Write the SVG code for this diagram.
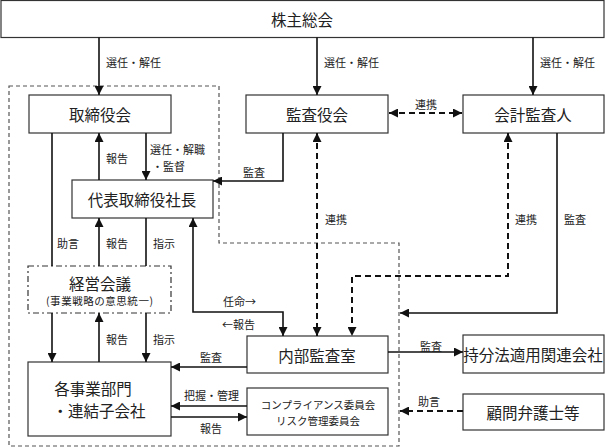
<svg xmlns="http://www.w3.org/2000/svg" width="605" height="448" viewBox="0 0 605 448">
<defs>
<marker id="ah" viewBox="0 0 10 10" refX="10" refY="5" markerWidth="9" markerHeight="9" markerUnits="userSpaceOnUse" orient="auto-start-reverse"><path d="M0,0 L10,5 L0,10 Z" fill="#111"/></marker>
</defs>
<style>
.box{fill:#fff;stroke:#333;stroke-width:1.2}
.t{font-family:"Noto Sans CJK JP","Noto Sans CJK SC",sans-serif;fill:#222;dominant-baseline:central}
.big{font-size:15.5px;text-anchor:middle}
.sm{font-size:11px}
.ln{fill:none;stroke:#111;stroke-width:1.6}
.ar{marker-end:url(#ah)}
.ar2{marker-start:url(#ah);marker-end:url(#ah)}
.dl{fill:none;stroke:#111;stroke-width:2;stroke-dasharray:6,4}
.grp{fill:none;stroke:#555;stroke-width:1.2;stroke-dasharray:4,3}
</style>
<path class="grp" d="M9,86 H219 V243 H399 V446 H9 Z"/>
<g id="kabunushi"><rect class="box" x="1" y="0.5" width="603" height="37"/><text class="t big" x="302" y="19">株主総会</text></g>
<g id="torishimariyakukai"><rect class="box" x="29" y="95" width="142" height="38"/><text class="t big" x="100" y="114">取締役会</text></g>
<g id="kansayakukai"><rect class="box" x="246" y="95" width="142" height="38"/><text class="t big" x="317" y="114">監査役会</text></g>
<g id="kaikeikansanin"><rect class="box" x="463" y="95" width="141" height="38"/><text class="t big" x="533" y="114">会計監査人</text></g>
<g id="shacho"><rect class="box" x="72" y="180" width="141" height="38"/><text class="t big" x="142" y="199" font-size="16">代表取締役社長</text></g>
<g id="keieikaigi"><rect x="28" y="266" width="143" height="47" fill="#fff" stroke="#333" stroke-width="1.2" stroke-dasharray="6,3,2,3"/><text class="t big" x="100" y="283">経営会議</text><text class="t" x="46" y="300" font-size="10.5" textLength="107" lengthAdjust="spacing">(事業戦略の意思統一)</text></g>
<g id="jigyobumon"><rect class="box" x="28" y="362" width="143" height="74"/><text class="t big" x="93" y="388">各事業部門</text><text class="t big" x="99" y="410">・連結子会社</text></g>
<g id="naibukansa"><rect class="box" x="247" y="336" width="141" height="37"/><text class="t big" x="317" y="355">内部監査室</text></g>
<g id="compliance"><rect class="box" x="247" y="388" width="141" height="47"/><text class="t" x="318" y="404" font-size="10.5" text-anchor="middle">コンプライアンス委員会</text><text class="t" x="318" y="420" font-size="10.5" text-anchor="middle">リスク管理委員会</text></g>
<g id="mochibunho"><rect class="box" x="463" y="335" width="141" height="38"/><text class="t big" x="533" y="354" font-size="14.5">持分法適用関連会社</text></g>
<g id="komon"><rect class="box" x="463" y="394" width="141" height="36"/><text class="t big" x="533" y="412">顧問弁護士等</text></g>
<g id="connectors">
<path class="ln ar" d="M99,37.5 V95"/>
<path class="ln ar" d="M317,37.5 V95"/>
<path class="ln ar" d="M533,37.5 V95"/>
<path class="ln" d="M52,133 V266"/>
<path class="ln ar" d="M99,180 V133"/>
<path class="ln ar" d="M146,133 V180"/>
<path class="ln ar" d="M283,133 V181 H213"/>
<path class="dl ar2" d="M389,113 H462"/>
<path class="ln ar" d="M99,266 V218"/>
<path class="ln" d="M146,218 V266"/>
<path class="ln ar2" d="M193,218 V312 H283 V336"/>
<path class="dl ar2" d="M317,133 V336"/>
<path class="dl ar2" d="M508,133 V276 H352 V336"/>
<path class="ln ar" d="M557,133 V313 H400"/>
<path class="ln ar" d="M52,313 V362"/>
<path class="ln ar" d="M99,362 V313"/>
<path class="ln ar" d="M146,313 V362"/>
<path class="ln ar" d="M247,367 H171"/>
<path class="ln ar" d="M247,406 H171"/>
<path class="ln ar" d="M171,417 H247"/>
<path class="ln ar" d="M388,352 H463"/>
<path class="dl ar" d="M463,411 H400"/>
</g>
<g id="labels" class="t sm">
<text x="106" y="62">選任・解任</text>
<text x="324" y="62">選任・解任</text>
<text x="540" y="62">選任・解任</text>
<text x="106" y="158">報告</text>
<text x="150" y="149">選任・解職</text>
<text x="152" y="166">・監督</text>
<text x="243" y="172">監査</text>
<text x="415" y="104">連携</text>
<text x="57" y="243">助言</text>
<text x="106" y="243">報告</text>
<text x="153" y="243">指示</text>
<text x="325" y="219">連携</text>
<text x="515" y="219">連携</text>
<text x="564" y="219">監査</text>
<text x="223" y="301">任命→</text>
<text x="222" y="324">←報告</text>
<text x="106" y="339">報告</text>
<text x="153" y="339">指示</text>
<text x="200" y="357">監査</text>
<text x="184" y="395">把握・管理</text>
<text x="200" y="428">報告</text>
<text x="420" y="346">監査</text>
<text x="418" y="401">助言</text>
</g>
</svg>
